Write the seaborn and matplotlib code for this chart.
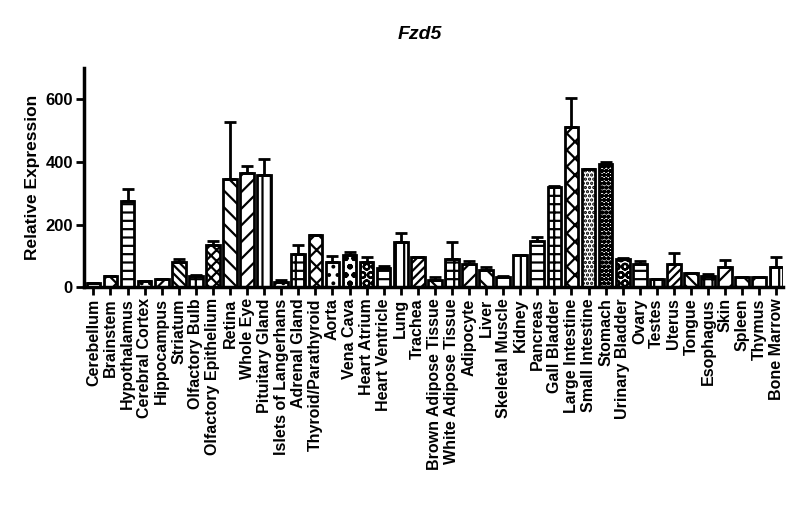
import matplotlib
matplotlib.use("Agg")
import matplotlib.pyplot as plt
import seaborn as sns
import pandas as pd
import numpy as np

# tissue panel, bar height and top of error bar
tissues = [
    "Cerebellum", "Brainstem", "Hypothalamus", "Cerebral Cortex", "Hippocampus",
    "Striatum", "Olfactory Bulb", "Olfactory Epithelium", "Retina", "Whole Eye",
    "Pituitary Gland", "Islets of Langerhans", "Adrenal Gland", "Thyroid/Parathyroid",
    "Aorta", "Vena Cava", "Heart Atrium", "Heart Ventricle", "Lung", "Trachea",
    "Brown Adipose Tissue", "White Adipose Tissue", "Adipocyte", "Liver",
    "Skeletal Muscle", "Kidney", "Pancreas", "Gall Bladder", "Large Intestine",
    "Small Intestine", "Stomach", "Urinary Bladder", "Ovary", "Testes", "Uterus",
    "Tongue", "Esophagus", "Skin", "Spleen", "Thymus", "Bone Marrow",
]
expression = [
    15, 35, 276, 21, 25, 82, 35, 136, 347, 365,
    359, 16, 105, 166, 82, 103, 81, 62, 146, 96,
    24, 91, 74, 56, 34, 102, 147, 320, 513, 377,
    395, 91, 75, 27, 75, 45, 37, 66, 34, 34, 64,
]
sem = [
    0, 2, 38, 0, 0, 7, 3, 13, 182, 23,
    51, 8, 30, 0, 17, 9, 15, 5, 26, 0,
    8, 54, 9, 8, 3, 0, 13, 4, 93, 0,
    5, 3, 10, 0, 34, 2, 6, 21, 0, 0, 32,
]
hatches = [
    "", "xx", "--", "..", "///", "\\\\\\\\", "++", "xxx", "\\\\", "//",
    "||", "..", "++", "xx", "..", "oo", "OO", "--", "||", "////",
    "\\\\", "++", "//", "\\\\", "/", "||", "--", "++", "xx", "....",
    "oooo", "OO", "--", "++", "////", "\\\\\\", "++", "//", "\\\\", "/", "||",
]

df = pd.DataFrame({"tissue": tissues, "expression": expression})

sns.set_style("ticks")
plt.rcParams["font.family"] = ["Liberation Sans", "DejaVu Sans"]
plt.rcParams["hatch.linewidth"] = 1.6
for key in ["text.color", "axes.labelcolor", "xtick.color", "ytick.color", "axes.edgecolor"]:
    plt.rcParams[key] = "black"

fig = plt.figure(figsize=(8, 5.28), dpi=100)
ax = fig.add_axes([0.105, 0.456, 0.874, 0.415])

sns.barplot(data=df, x="tissue", y="expression", color="white",
            edgecolor="black", linewidth=2, width=0.8, errorbar=None, ax=ax)

for patch, h in zip(ax.patches, hatches):
    patch.set_hatch(h)

x = np.arange(len(tissues))
ax.errorbar(x, expression, yerr=[np.zeros(len(sem)), sem], fmt="none",
            ecolor="black", elinewidth=2, capsize=4, capthick=2, zorder=1)

ax.set_ylim(0, 700)
ax.set_xlim(-0.55, len(tissues) - 0.6)
ax.set_yticks([0, 200, 400, 600])
ax.set_xlabel("")
ax.set_ylabel("Relative Expression", fontsize=12.5, fontweight="bold")
ax.set_xticks(x)
ax.set_xticklabels(tissues, rotation=90, fontsize=11.5, fontweight="bold")
for lab in ax.get_yticklabels():
    lab.set_fontweight("bold")
    lab.set_fontsize(12)

sns.despine(ax=ax)
for side in ["left", "bottom"]:
    ax.spines[side].set_linewidth(2.5)
ax.tick_params(axis="both", direction="out", length=6, width=2, pad=2)

fig.text(0.525, 0.935, "Fzd5", ha="center", va="center",
         fontsize=14, fontweight="bold", fontstyle="italic")

fig.savefig("out.png", dpi=100)
